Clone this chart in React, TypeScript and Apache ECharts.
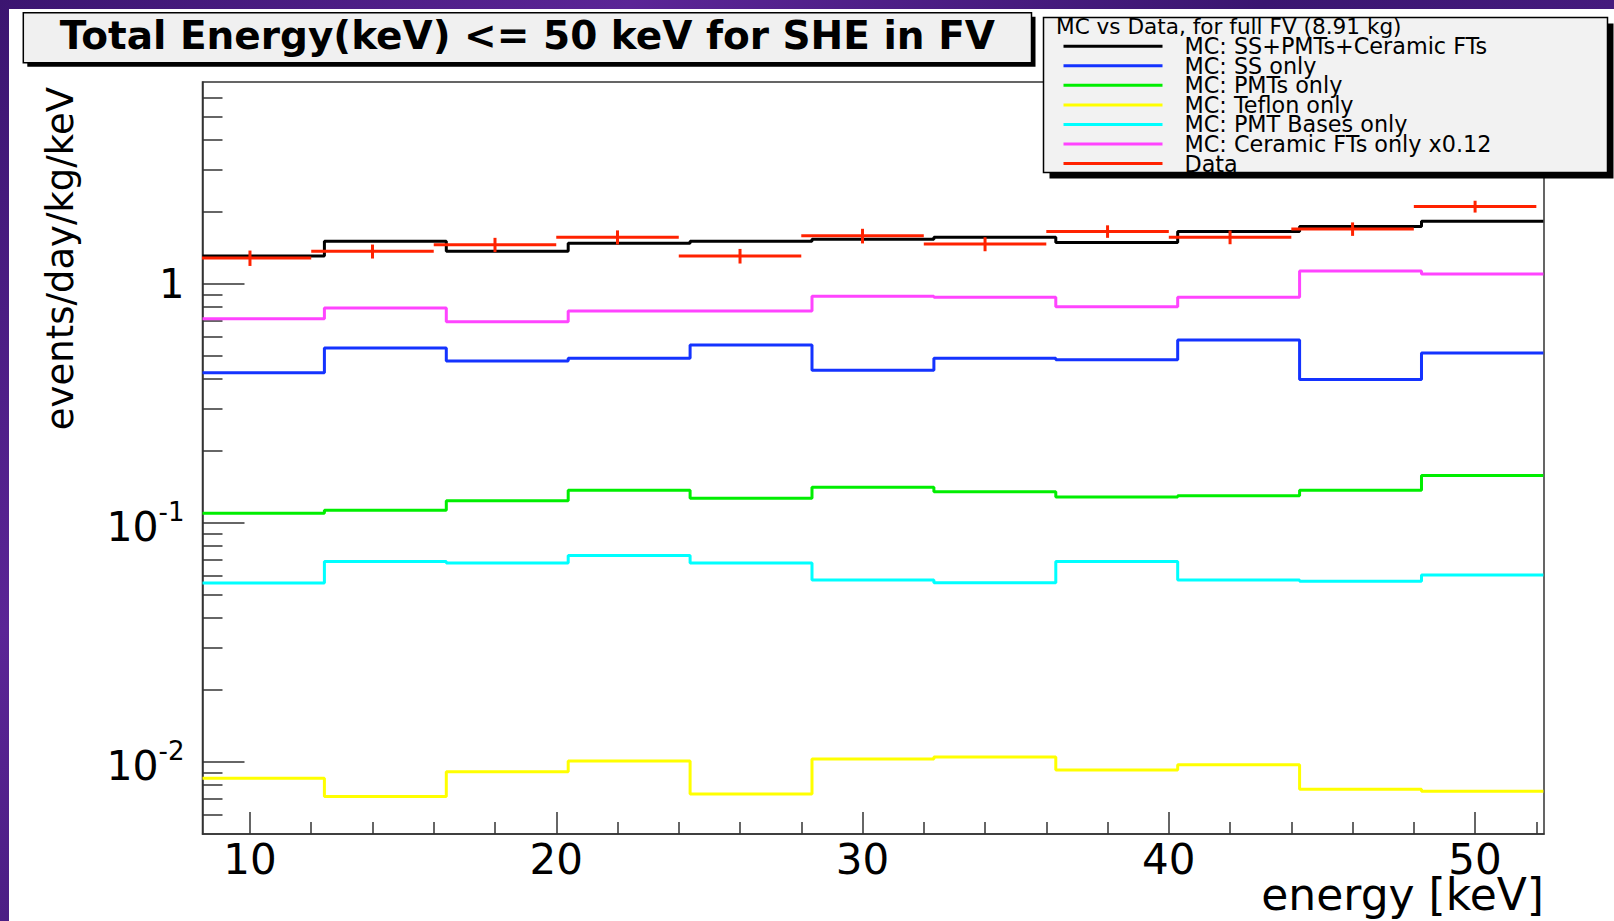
import React, { useEffect, useRef } from "react";
import * as echarts from "echarts";

// ---------- data ----------
const X_MIN = 8.45;
const X_MAX = 52.25;
const Y_MIN = 0.005;
const Y_MAX = 7;

const MC_EDGES = [8.45, 12.43, 16.41, 20.39, 24.37, 28.35, 32.33, 36.31, 40.29, 44.27, 48.25, 52.23];

const MC_TOTAL = [1.31, 1.51, 1.37, 1.48, 1.51, 1.54, 1.57, 1.49, 1.66, 1.74, 1.83];
const MC_SS = [0.425, 0.54, 0.476, 0.489, 0.556, 0.436, 0.489, 0.482, 0.583, 0.399, 0.514];
const MC_PMTS = [0.11, 0.113, 0.124, 0.137, 0.127, 0.141, 0.135, 0.1285, 0.13, 0.137, 0.158];
const MC_TEFLON = [0.00855, 0.00718, 0.0091, 0.0101, 0.00735, 0.0103, 0.0105, 0.00926, 0.00975, 0.00769, 0.00754];
const MC_BASES = [0.0561, 0.0691, 0.068, 0.0732, 0.068, 0.0577, 0.0563, 0.0691, 0.0577, 0.057, 0.0606];
const MC_CERAMIC = [0.716, 0.794, 0.695, 0.771, 0.771, 0.888, 0.88, 0.804, 0.88, 1.134, 1.1];

const DATA_X = [10, 14, 18, 22, 26, 30, 34, 38, 42, 46, 50];
const DATA_XERR = [2, 2, 2, 2, 2, 2, 2, 2, 2, 2, 2];
const DATA_Y = [1.285, 1.37, 1.46, 1.57, 1.31, 1.59, 1.47, 1.66, 1.57, 1.7, 2.11];
const DATA_YERR = [0.095, 0.092, 0.1, 0.106, 0.092, 0.112, 0.099, 0.1, 0.103, 0.11, 0.12];

const MC_NAMES = [
  "MC: SS+PMTs+Ceramic FTs",
  "MC: SS only",
  "MC: PMTs only",
  "MC: Teflon only",
  "MC: PMT Bases only",
  "MC: Ceramic FTs only x0.12",
];
const MC_VALUES = [MC_TOTAL, MC_SS, MC_PMTS, MC_TEFLON, MC_BASES, MC_CERAMIC];
const MC_COLORS = ["#000000", "#1433ff", "#00ee00", "#ffff00", "#00ffff", "#ff44ff"];
const DATA_NAME = "Data";
const DATA_COLOR = "#ff2200";

const X_MAJOR_TICKS = [10, 20, 30, 40, 50];
const X_MINOR_TICKS = [12, 14, 16, 18, 22, 24, 26, 28, 32, 34, 36, 38, 42, 44, 46, 48, 52];
const Y_MAJOR_TICKS = [0.01, 0.1, 1];
const Y_MINOR_TICKS = [
  0.006, 0.007, 0.008, 0.009,
  0.02, 0.03, 0.04, 0.05, 0.06, 0.07, 0.08, 0.09,
  0.2, 0.3, 0.4, 0.5, 0.6, 0.7, 0.8, 0.9,
  2, 3, 4, 5, 6,
];

const TITLE = "Total Energy(keV) <= 50 keV for SHE in FV";
const LEGEND_HEADER = "MC vs Data, for full FV (8.91 kg)";
const X_NAME = "energy [keV]";
const Y_NAME = "events/day/kg/keV";

const FONT = "DejaVu Sans";
const AXIS_COLOR = "#333333";

function stepData(values: number[]) {
  const pts: number[][] = values.map((v, i) => [MC_EDGES[i], v]);
  pts.push([MC_EDGES[values.length], values[values.length - 1]]);
  return pts;
}

export default function App() {
  const ref = useRef<HTMLDivElement>(null);

  useEffect(() => {
    if (!ref.current) return;
    const chart = echarts.init(ref.current, undefined, { renderer: "svg" });

    const mcSeries = MC_VALUES.map((vals, i) => ({
      type: "line",
      name: MC_NAMES[i],
      step: "end",
      symbol: "none",
      showSymbol: false,
      data: stepData(vals),
      xAxisIndex: 0,
      yAxisIndex: 0,
      itemStyle: { color: MC_COLORS[i] },
      lineStyle: { color: MC_COLORS[i], width: 3 },
      z: 2 + i * 0.01,
      silent: true,
    }));

    const dataSeries = {
      type: "custom",
      name: DATA_NAME,
      xAxisIndex: 0,
      yAxisIndex: 0,
      clip: true,
      z: 3,
      itemStyle: { color: DATA_COLOR },
      encode: { x: 0, y: 1 },
      data: DATA_X.map((x, i) => [x, DATA_Y[i], DATA_XERR[i], DATA_YERR[i]]),
      renderItem: (_params: any, api: any) => {
        const x = api.value(0);
        const y = api.value(1);
        const ex = api.value(2);
        const ey = api.value(3);
        const l = api.coord([x - ex, y]);
        const r = api.coord([x + ex, y]);
        const t = api.coord([x, y + ey]);
        const b = api.coord([x, y - ey]);
        const style = { stroke: DATA_COLOR, lineWidth: 3 };
        return {
          type: "group",
          children: [
            { type: "line", shape: { x1: l[0], y1: l[1], x2: r[0], y2: r[1] }, style },
            { type: "line", shape: { x1: t[0], y1: t[1], x2: b[0], y2: b[1] }, style },
          ],
        };
      },
    };

    const option: any = {
      animation: false,
      backgroundColor: "transparent",
      textStyle: { fontFamily: FONT },
      grid: {
        left: 202.5,
        right: 70,
        top: 82,
        bottom: 87,
        show: true,
        borderColor: AXIS_COLOR,
        borderWidth: 1.5,
        backgroundColor: "transparent",
        containLabel: false,
        outerBoundsMode: "none",
      },
      legend: {
        show: true,
        orient: "vertical",
        left: 1063.5,
        top: 35.2,
        padding: 0,
        itemWidth: 99,
        itemHeight: 3,
        itemGap: -2.43,
        icon: "rect",
        selectedMode: false,
        z: 20,
        textStyle: {
          fontFamily: FONT,
          fontSize: 22.3,
          color: "#000",
          lineHeight: 19,
          padding: [0, 0, 0, 17],
        },
        data: [...MC_NAMES, DATA_NAME],
      },
      xAxis: [
        {
          type: "value",
          min: X_MIN,
          max: X_MAX,
          position: "bottom",
          axisLine: { show: true, onZero: false, lineStyle: { color: AXIS_COLOR, width: 1.5 } },
          axisTick: {
            show: true,
            inside: true,
            length: 22,
            customValues: X_MAJOR_TICKS,
            lineStyle: { color: AXIS_COLOR, width: 1.5 },
          },
          axisLabel: {
            show: true,
            customValues: X_MAJOR_TICKS,
            margin: 9,
            fontFamily: FONT,
            fontSize: 42,
            lineHeight: 32,
            color: "#000",
          },
          splitLine: { show: false },
        },
        {
          type: "value",
          min: X_MIN,
          max: X_MAX,
          position: "bottom",
          axisLine: { show: false },
          axisTick: {
            show: true,
            inside: true,
            length: 12,
            customValues: X_MINOR_TICKS,
            lineStyle: { color: AXIS_COLOR, width: 1.5 },
          },
          axisLabel: { show: false },
          splitLine: { show: false },
        },
      ],
      yAxis: [
        {
          type: "log",
          logBase: 10,
          min: Y_MIN,
          max: Y_MAX,
          position: "left",
          axisLine: { show: true, onZero: false, lineStyle: { color: AXIS_COLOR, width: 1.5 } },
          axisTick: {
            show: true,
            inside: true,
            length: 42,
            customValues: Y_MAJOR_TICKS,
            lineStyle: { color: AXIS_COLOR, width: 1.5 },
          },
          axisLabel: {
            show: true,
            customValues: Y_MAJOR_TICKS,
            margin: 18,
            color: "#000",
            formatter: (v: number) => {
              const p = Math.round(Math.log10(v));
              return p === 0 ? "{c|1}" : `{b|10}{s|${p}}`;
            },
            rich: {
              c: { fontFamily: FONT, fontSize: 40, lineHeight: 40, color: "#000" },
              b: {
                fontFamily: FONT,
                fontSize: 41,
                lineHeight: 40,
                padding: [19, 0, 0, 0],
                verticalAlign: "bottom",
                color: "#000",
              },
              s: { fontFamily: FONT, fontSize: 26, lineHeight: 48, verticalAlign: "top", color: "#000" },
            },
          },
          splitLine: { show: false },
        },
        {
          type: "log",
          logBase: 10,
          min: Y_MIN,
          max: Y_MAX,
          position: "left",
          axisLine: { show: false },
          axisTick: {
            show: true,
            inside: true,
            length: 20,
            customValues: Y_MINOR_TICKS,
            lineStyle: { color: AXIS_COLOR, width: 1.5 },
          },
          axisLabel: { show: false },
          splitLine: { show: false },
        },
      ],
      graphic: [
        { type: "rect", z: -10, silent: true, shape: { x: 9, y: 9, width: 1605, height: 912 }, style: { fill: "#ffffff" } },
        // title box
        { type: "rect", z: 10, silent: true, shape: { x: 27.3, y: 16.7, width: 1008.2, height: 50 }, style: { fill: "#000" } },
        {
          type: "rect",
          z: 11,
          silent: true,
          shape: { x: 23.3, y: 12.7, width: 1008.2, height: 50 },
          style: { fill: "#f0f0f0", stroke: "#000", lineWidth: 1.5 },
        },
        {
          type: "text",
          z: 12,
          silent: true,
          x: 527.4,
          y: 35.5,
          style: {
            text: TITLE,
            fontFamily: FONT,
            fontWeight: "bold",
            fontSize: 39,
            fill: "#000",
            align: "center",
            verticalAlign: "middle",
          },
        },
        // legend box
        { type: "rect", z: 10, silent: true, shape: { x: 1049.5, y: 23.5, width: 564, height: 155 }, style: { fill: "#000" } },
        {
          type: "rect",
          z: 11,
          silent: true,
          shape: { x: 1043.5, y: 17.5, width: 564, height: 155 },
          style: { fill: "#f2f2f2", stroke: "#000", lineWidth: 1.5 },
        },
        {
          type: "text",
          z: 12,
          silent: true,
          x: 1056,
          y: 26,
          style: {
            text: LEGEND_HEADER,
            fontFamily: FONT,
            fontSize: 21.6,
            fill: "#000",
            align: "left",
            verticalAlign: "middle",
          },
        },
        // axis titles
        {
          type: "text",
          z: 12,
          silent: true,
          x: 60,
          y: 87,
          rotation: Math.PI / 2,
          style: {
            text: Y_NAME,
            fontFamily: FONT,
            fontSize: 37,
            fill: "#000",
            align: "right",
            verticalAlign: "middle",
          },
        },
        {
          type: "text",
          z: 12,
          silent: true,
          x: 1544,
          y: 894,
          style: {
            text: X_NAME,
            fontFamily: FONT,
            fontSize: 44,
            lineHeight: 36,
            fill: "#000",
            align: "right",
            verticalAlign: "middle",
          },
        },
      ],
      series: [...mcSeries, dataSeries],
    };

    chart.setOption(option);
    return () => {
      chart.dispose();
    };
  }, []);

  return (
    <div
      style={{
        position: "fixed",
        left: 0,
        top: 0,
        width: 1614,
        height: 921,
        overflow: "hidden",
        background:
          "linear-gradient(135deg, #3b1570 0%, #5b2596 25%, #3a1670 50%, #4e1f88 75%, #2f0f5e 100%)",
      }}
    >
      <div ref={ref} style={{ position: "absolute", left: 0, top: 0, width: 1614, height: 921 }} />
    </div>
  );
}
